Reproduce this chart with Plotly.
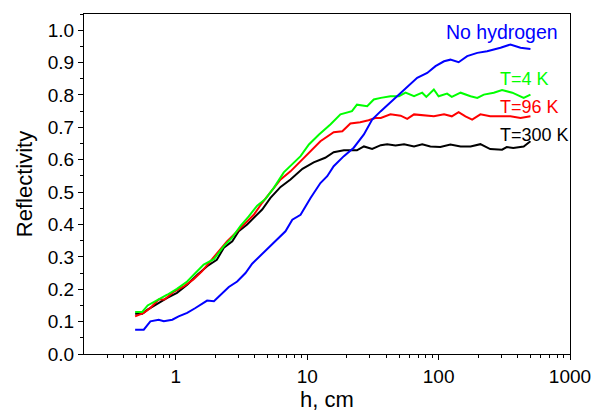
import plotly.graph_objects as go

# ---- data ----
blue_h = [0.49, 0.57, 0.64, 0.74, 0.81, 0.94, 1.05, 1.22, 1.41, 1.73, 1.95, 2.19, 2.53, 2.93, 3.39,
          3.81, 4.54, 5.57, 6.83, 7.7, 8.9, 10.6, 12.6, 14.2, 15.9, 19.0, 22.6, 27.0, 31.2, 36.3,
          48.4, 57.7, 68.7, 81.9, 94.7, 110, 123, 142, 165, 197, 234, 296, 352, 420, 500]
blue_r = [0.075, 0.075, 0.101, 0.106, 0.101, 0.106, 0.116, 0.127, 0.142, 0.165, 0.163, 0.183, 0.207, 0.224, 0.250,
          0.279, 0.310, 0.343, 0.379, 0.415, 0.430, 0.482, 0.528, 0.549, 0.580, 0.611, 0.637, 0.678, 0.724, 0.750,
          0.796, 0.827, 0.853, 0.868, 0.889, 0.904, 0.909, 0.901, 0.920, 0.930, 0.935, 0.946, 0.956, 0.946, 0.942]

green_h = [0.49, 0.555, 0.61, 0.72, 0.86, 1.02, 1.22, 1.41, 1.63, 1.95, 2.32, 2.69, 3.11, 3.59, 4.16,
           4.81, 5.57, 6.63, 7.46, 8.9, 10.3, 12.3, 15.0, 17.9, 21.9, 23.9, 28.6, 32.1, 36.3, 43,
           49.9, 56, 65, 75, 80.6, 92, 100, 116, 126, 147, 175, 197, 221, 263, 304, 364, 444, 500]
green_r = [0.130, 0.130, 0.150, 0.165, 0.183, 0.201, 0.224, 0.250, 0.276, 0.293, 0.333, 0.360, 0.396, 0.425, 0.458,
           0.479, 0.513, 0.561, 0.580, 0.611, 0.647, 0.678, 0.709, 0.740, 0.750, 0.770, 0.765, 0.786, 0.791, 0.796,
           0.796, 0.807, 0.796, 0.807, 0.794, 0.817, 0.796, 0.804, 0.794, 0.807, 0.796, 0.791, 0.801, 0.807, 0.815,
           0.807, 0.791, 0.801]

red_h = [0.49, 0.57, 0.64, 0.74, 0.82, 0.97, 1.15, 1.36, 1.58, 1.83, 2.12, 2.45, 2.85, 3.29, 3.92,
         4.54, 5.41, 6.27, 7.46, 8.9, 10.6, 12.6, 15.9, 18.5, 21.3, 25.3, 29.3, 33, 36.3, 43,
         51.4, 57.7, 65, 77, 92, 110, 126, 142, 160, 180, 208, 247, 296, 352, 420, 500]
red_r = [0.116, 0.127, 0.142, 0.168, 0.168, 0.193, 0.209, 0.230, 0.255, 0.286, 0.317, 0.348, 0.374, 0.400, 0.430,
         0.467, 0.508, 0.539, 0.564, 0.595, 0.626, 0.657, 0.685, 0.688, 0.712, 0.716, 0.722, 0.729, 0.729, 0.740,
         0.736, 0.726, 0.740, 0.736, 0.734, 0.740, 0.734, 0.747, 0.734, 0.724, 0.740, 0.734, 0.733, 0.734, 0.729,
         0.734]

black_h = [0.49, 0.555, 0.61, 0.74, 0.86, 1.02, 1.22, 1.46, 1.73, 2.05, 2.32, 2.69, 3.01, 3.49, 4.04,
           4.54, 5.25, 6.27, 7.46, 9.2, 11.2, 13.7, 15.9, 19, 23.9, 27, 31.2, 36.3, 40.6, 47,
           54.6, 65, 75, 86.5, 103, 123, 147, 175, 208, 247, 304, 330, 370, 444, 500]
black_r = [0.124, 0.124, 0.137, 0.158, 0.173, 0.189, 0.214, 0.245, 0.271, 0.291, 0.328, 0.348, 0.379, 0.400, 0.425,
           0.446, 0.482, 0.516, 0.539, 0.572, 0.592, 0.606, 0.623, 0.629, 0.629, 0.641, 0.633, 0.645, 0.648, 0.644,
           0.648, 0.641, 0.648, 0.641, 0.639, 0.647, 0.641, 0.641, 0.648, 0.633, 0.631, 0.639, 0.636, 0.641, 0.657]

x_major = [1, 10, 100, 1000]
x_major_text = ["1", "10", "100", "1000"]
x_minor = [0.3, 0.4, 0.5, 0.6, 0.7, 0.8, 0.9, 2, 3, 4, 5, 6, 7, 8, 9,
           20, 30, 40, 50, 60, 70, 80, 90, 200, 300, 400, 500, 600, 700, 800, 900]

labels = ["No hydrogen", "T=4 K", "T=96 K", "T=300 K"]
label_colors = ["#0000ff", "#00ff00", "#ff0000", "#000000"]

FONT = "Liberation Sans, Arial, sans-serif"

fig = go.Figure()
series = [(black_h, black_r, "#000000"), (red_h, red_r, "#ff0000"),
          (green_h, green_r, "#00ff00"), (blue_h, blue_r, "#0000ff")]
for hx, ry, col in series:
    fig.add_trace(go.Scatter(x=hx, y=ry, mode="lines", line=dict(color=col, width=2),
                             showlegend=False, hoverinfo="skip"))

fig.update_xaxes(type="log", range=[-0.69897, 3], tickmode="array", tickvals=x_major,
                 ticktext=x_major_text, ticks="outside", ticklen=5, tickwidth=1.2, tickcolor="black",
                 minor=dict(tickmode="array", tickvals=x_minor, ticks="outside", ticklen=3,
                            tickwidth=1.2, tickcolor="black"),
                 showline=True, linecolor="black", linewidth=1.3, mirror=True, showgrid=False,
                 zeroline=False, automargin=False, tickfont=dict(family=FONT, size=19, color="black"),
                 title=dict(text="h, cm", font=dict(family=FONT, size=22, color="black"), standoff=6))
fig.update_yaxes(range=[0, 1.05], tick0=0, dtick=0.1, tickformat=".1f", ticks="outside", ticklen=5,
                 tickwidth=1.2, tickcolor="black",
                 minor=dict(tick0=0.05, dtick=0.1, ticks="outside", ticklen=3, tickwidth=1.2,
                            tickcolor="black"),
                 showline=True, linecolor="black", linewidth=1.3, mirror=True, showgrid=False,
                 zeroline=False, automargin=False, tickfont=dict(family=FONT, size=19, color="black"),
                 title=dict(text="Reflectivity", font=dict(family=FONT, size=22, color="black"),
                            standoff=8))

ann_pos = [(0.741, 0.946, 19.5), (0.852, 0.809, 18), (0.852, 0.726, 18), (0.852, 0.644, 18)]
for txt, col, (ax, ay, fs) in zip(labels, label_colors, ann_pos):
    fig.add_annotation(text=txt, xref="paper", yref="paper", x=ax, y=ay, xanchor="left",
                       yanchor="middle", showarrow=False,
                       font=dict(family=FONT, size=fs, color=col))

fig.update_layout(width=592, height=412, margin=dict(l=84, r=22, t=14, b=58),
                  plot_bgcolor="white", paper_bgcolor="white")

fig.write_html("out.html")
